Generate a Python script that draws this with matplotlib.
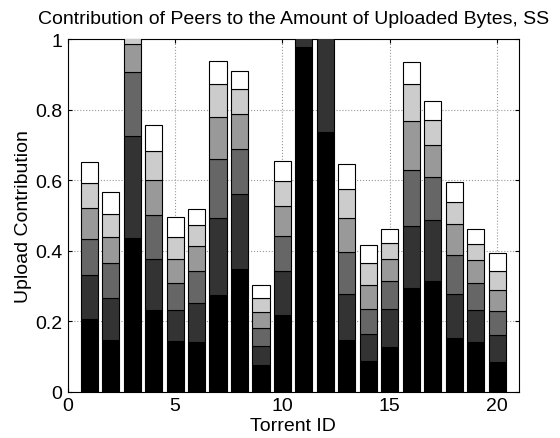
import numpy as np
import matplotlib.pyplot as plt

plt.rcParams['font.family'] = ['Liberation Sans', 'DejaVu Sans']

torrent_id = np.arange(1, 21)

# cumulative upload share reached by the top-k peers (k = 1..6)
top1 = [0.207, 0.148, 0.437, 0.232, 0.143, 0.141, 0.275, 0.348, 0.076, 0.218,
         0.978, 0.736, 0.147, 0.088, 0.128, 0.295, 0.314, 0.154, 0.141, 0.085]
top2 = [0.332, 0.267, 0.726, 0.377, 0.232, 0.251, 0.494, 0.560, 0.130, 0.344,
         1.010, 1.020, 0.278, 0.164, 0.235, 0.470, 0.489, 0.278, 0.231, 0.162]
top3 = [0.434, 0.366, 0.907, 0.502, 0.309, 0.342, 0.662, 0.690, 0.180, 0.441,
         1.020, 1.030, 0.396, 0.235, 0.315, 0.629, 0.611, 0.387, 0.310, 0.229]
top4 = [0.523, 0.439, 0.986, 0.601, 0.378, 0.414, 0.779, 0.787, 0.226, 0.528,
         1.030, 1.040, 0.494, 0.303, 0.377, 0.768, 0.699, 0.475, 0.375, 0.288]
top5 = [0.594, 0.506, 1.020, 0.684, 0.440, 0.474, 0.874, 0.860, 0.267, 0.599,
         1.040, 1.050, 0.575, 0.365, 0.422, 0.873, 0.770, 0.540, 0.420, 0.343]
top6 = [0.652, 0.566, 1.050, 0.756, 0.497, 0.519, 0.940, 0.911, 0.304, 0.654,
         1.050, 1.060, 0.647, 0.418, 0.461, 0.935, 0.824, 0.596, 0.461, 0.393]

layers = [top1, top2, top3, top4, top5, top6]
colors = ['#000000', '#333333', '#666666', '#999999', '#cccccc', '#ffffff']

fig = plt.figure(figsize=(5.6, 4.39), dpi=100)
ax = fig.add_axes([0.121, 0.105, 0.805, 0.803])

bottom = np.zeros(len(torrent_id))
for layer, col in zip(layers, colors):
    layer = np.array(layer)
    ax.bar(torrent_id, layer - bottom, bottom=bottom, width=0.8,
           color=col, edgecolor='black', linewidth=0.8, zorder=3)
    bottom = layer

ax.set_xlim(0, 21)
ax.set_ylim(0, 1)
ax.set_xticks([0, 5, 10, 15, 20])
ax.set_yticks([0, 0.2, 0.4, 0.6, 0.8, 1])
ax.set_yticklabels(['0', '0.2', '0.4', '0.6', '0.8', '1'])
ax.tick_params(direction='in', top=True, right=True, labelsize=14, length=3)
ax.tick_params(axis='x', pad=4)
ax.tick_params(axis='y', pad=4)
ax.grid(True, linestyle=':', color='#999999', linewidth=0.8, zorder=0)
for s in ax.spines.values():
    s.set_linewidth(0.8)

ax.set_xlabel('Torrent ID', fontsize=14, labelpad=2)
ax.set_ylabel('Upload Contribution', fontsize=14, labelpad=2)
ax.set_title('Contribution of Peers to the Amount of Uploaded Bytes, SS',
             fontsize=14, pad=12)

fig.savefig('out.png', dpi=100)
